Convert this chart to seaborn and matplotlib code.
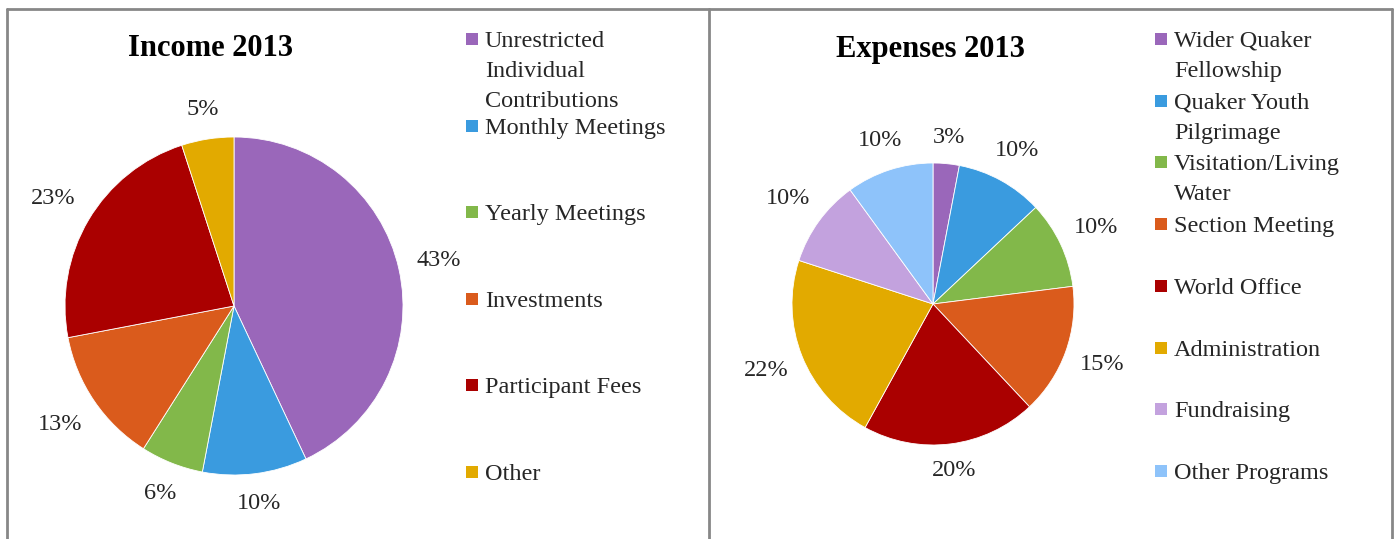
import matplotlib
matplotlib.use("Agg")
import numpy as np
import matplotlib.pyplot as plt
import seaborn as sns
from matplotlib.lines import Line2D
from matplotlib.patches import Rectangle

# ---- data ----
income_title = "Income 2013"
income_labels = ["Unrestricted\nIndividual\nContributions", "Monthly Meetings",
                 "Yearly Meetings", "Investments", "Participant Fees", "Other"]
income_values = [43, 10, 6, 13, 23, 5]
income_colors = ["#9A67BA", "#3A9BDF", "#82B84A", "#DA5B1C", "#AA0000", "#E2AA00"]

expense_title = "Expenses 2013"
expense_labels = ["Wider Quaker\nFellowship", "Quaker Youth\nPilgrimage",
                  "Visitation/Living\nWater", "Section Meeting", "World Office",
                  "Administration", "Fundraising", "Other Programs"]
expense_values = [3, 10, 10, 15, 20, 22, 10, 10]
expense_colors = ["#9A67BA", "#3A9BDF", "#82B84A", "#DA5B1C", "#AA0000",
                  "#E2AA00", "#C3A2DE", "#8EC3FA"]

sns.set_theme(style="white")
plt.rcParams["font.family"] = ["Liberation Serif", "DejaVu Serif"]

FS = 17.5
TXT = "#262626"
W, H = 1397, 539
fig = plt.figure(figsize=(W / 100, H / 100), dpi=100)
fig.patch.set_facecolor("white")


def fx(px):
    return px / W


def fy(py):
    return 1 - py / H


# panel borders
border = "#878787"
for (x0, y0, x1, y1) in [(7, 9, 1392, 9), (7, 9, 7, 545), (708.5, 9, 708.5, 545), (1392, 9, 1392, 545)]:
    fig.add_artist(Line2D([fx(x0), fx(x1)], [fy(y0), fy(y1)], color=border, lw=2,
                          transform=fig.transFigure))


def draw_pie(cx, cy, r, values, colors):
    ax = fig.add_axes([fx(cx - r), fy(cy + r), 2 * r / W, 2 * r / H])
    wedges, texts, autotexts = ax.pie(
        values, colors=colors, startangle=90, counterclock=False,
        autopct="%1.0f%%", pctdistance=1.2, radius=1.0,
        wedgeprops=dict(edgecolor="white", linewidth=0.6),
        textprops=dict(fontsize=FS, color=TXT))
    ax.set_xlim(-1, 1)
    ax.set_ylim(-1, 1)
    ax.set_aspect("auto")
    ax.axis("off")
    return r, wedges, autotexts


pies = [draw_pie(234, 306, 169, income_values, income_colors),
        draw_pie(933, 304, 141, expense_values, expense_colors)]

# place percentage labels just outside the pie edge (gap measured to text box)
fig.canvas.draw()
renderer = fig.canvas.get_renderer()
for r, wedges, autotexts in pies:
    gap = 0.1 * r
    for w, t in zip(wedges, autotexts):
        th = np.deg2rad((w.theta1 + w.theta2) / 2)
        bb = t.get_window_extent(renderer)
        half = abs(np.cos(th)) * bb.width / 2 + abs(np.sin(th)) * bb.height / 2
        d = (r + gap + half) / r
        t.set_position((np.cos(th) * d, np.sin(th) * d))
        t.set_va("center")
        t.set_ha("center")

# titles
fig.text(fx(211), fy(49), income_title, ha="center", va="center",
         fontsize=22, fontweight="bold", color="black")
fig.text(fx(930), fy(49), expense_title, ha="center", va="center",
         fontsize=22, fontweight="bold", color="black")


def draw_legend(labels, colors, sq_x, txt_x, y0, step, line_h=30, sq=12):
    for i, (lab, col) in enumerate(zip(labels, colors)):
        y = y0 + i * step
        fig.add_artist(Rectangle((fx(sq_x), fy(y + sq / 2)), sq / W, sq / H,
                                 facecolor=col, edgecolor="none",
                                 transform=fig.transFigure))
        for j, line in enumerate(lab.split("\n")):
            fig.text(fx(txt_x), fy(y + j * line_h), line, ha="left",
                     va="center_baseline", fontsize=FS, color=TXT)


draw_legend(income_labels, income_colors, 466, 485, 39, 86.6)
draw_legend(expense_labels, expense_colors, 1155, 1174, 39, 61.7)

fig.savefig("out.png", dpi=100, facecolor="white")
